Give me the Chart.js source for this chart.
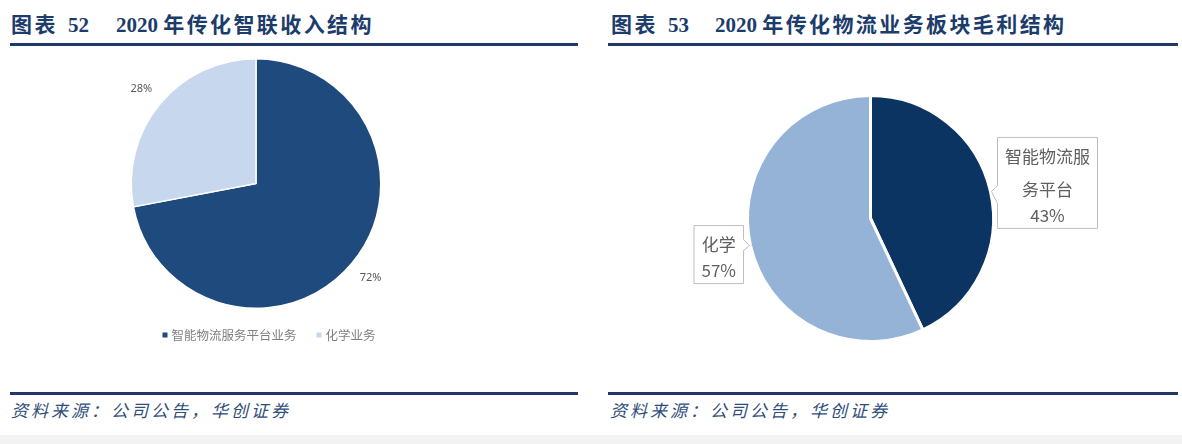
<!DOCTYPE html>
<html><head><meta charset="utf-8">
<script src="https://cdn.jsdelivr.net/npm/chart.js@4.4.0/dist/chart.umd.min.js"></script>
<style>
html,body{margin:0;padding:0;background:#fff;width:1182px;height:444px;overflow:hidden;position:relative;font-family:"Noto Sans CJK SC",sans-serif}
.t{position:absolute;top:12px;font-family:"Liberation Serif","Noto Sans CJK SC",serif;font-weight:bold;font-size:21px;color:#1c3c6c;white-space:pre;line-height:26px}
.t .cn{letter-spacing:2.4px}
.rule{position:absolute;height:3px;background:#1f3a66}
.src{position:absolute;top:398px;font-style:italic;font-size:17px;line-height:24px;color:#2f4d7a;letter-spacing:3px;white-space:pre}
.band{position:absolute;left:0;top:435px;width:1182px;height:9px;background:#f2f2f2}
canvas{position:absolute}
</style></head>
<body>
<div class="t" style="left:11px"><span class="cn">图表</span></div>
<div class="t" style="left:68px">52</div>
<div class="t" style="left:116px">2020 <span class="cn">年传化智联收入结构</span></div>
<div class="t" style="left:611px"><span class="cn">图表</span></div>
<div class="t" style="left:668px">53</div>
<div class="t" style="left:715px">2020 <span class="cn">年传化物流业务板块毛利结构</span></div>
<div class="rule" style="left:10px;top:43px;width:568px"></div>
<div class="rule" style="left:608px;top:43px;width:570px"></div>
<canvas id="c1" width="590" height="310" style="left:0;top:50px;width:590px;height:310px"></canvas>
<canvas id="c2" width="582" height="330" style="left:600px;top:50px;width:582px;height:330px"></canvas>
<div class="rule" style="left:10px;top:392px;width:568px"></div>
<div class="rule" style="left:608px;top:392px;width:570px"></div>
<div class="src" style="left:11px">资料来源：公司公告，华创证券</div>
<div class="src" style="left:610px">资料来源：公司公告，华创证券</div>
<div class="band"></div>
<script>
// ---- data ----
const incomeLabels = ['智能物流服务平台业务', '化学业务'];
const incomeValues = [72, 28];
const profitLabels = ['智能物流服务平台', '化学'];
const profitValues = [43, 57];

const SANS = '"Noto Sans CJK SC","Noto Sans",sans-serif';

// percent labels + legend for chart 1
const chart1Plugin = {
  id: 'c1labels',
  afterDraw(chart) {
    const ctx = chart.ctx;
    const meta = chart.getDatasetMeta(0);
    const ds = chart.data.datasets[0];
    ctx.save();
    ctx.font = '11px "Noto Sans",sans-serif';
    ctx.fillStyle = '#595959';
    ctx.textAlign = 'center';
    ctx.textBaseline = 'middle';
    meta.data.forEach((arc, i) => {
      const a = (arc.startAngle + arc.endAngle) / 2;
      const r = arc.outerRadius + 24;
      ctx.fillText(ds.data[i] + '%', arc.x + Math.cos(a) * r, arc.y + Math.sin(a) * r);
    });
    // legend
    ctx.font = '12.5px ' + SANS;
    ctx.textAlign = 'left';
    const box = 5, gapIn = 4, gapItems = 20;
    const widths = chart.data.labels.map(l => ctx.measureText(l).width);
    const total = widths.reduce((s, w) => s + box + gapIn + w, 0) + gapItems * (widths.length - 1);
    let x = 269 - total / 2;
    const y = 285;
    chart.data.labels.forEach((l, i) => {
      ctx.fillStyle = ds.backgroundColor[i];
      ctx.fillRect(x, y - box / 2, box, box);
      x += box + gapIn;
      ctx.fillStyle = '#7f7f7f';
      ctx.fillText(l, x, y + 0.5);
      x += widths[i] + gapItems;
    });
    ctx.restore();
  }
};

// callouts for chart 2
const chart2Plugin = {
  id: 'c2callouts',
  afterDraw(chart) {
    const ctx = chart.ctx;
    const meta = chart.getDatasetMeta(0);
    const ds = chart.data.datasets[0];
    ctx.save();
    ctx.font = '17px ' + SANS;
    meta.data.forEach((arc, i) => {
      const a = (arc.startAngle + arc.endAngle) / 2;
      const r = arc.outerRadius + 1;
      const tx = arc.x + Math.cos(a) * r, ty = arc.y + Math.sin(a) * r;
      // wrap label
      const label = chart.data.labels[i];
      const lines = [];
      let cur = '';
      for (const ch of label) {
        if (ctx.measureText(cur + ch).width > 92 && cur) { lines.push(cur); cur = ch; }
        else cur += ch;
      }
      if (cur) lines.push(cur);
      const nameLines = lines.length;
      lines.push(ds.data[i] + '%');
      // line centre offsets from box top
      const ys = [];
      let yy = 19;
      lines.forEach((l, k) => { ys.push(yy); yy += (k < nameLines - 1) ? 33 : 26; });
      const h = ys[ys.length - 1] + 13;
      const maxW = Math.max(...lines.map(l => ctx.measureText(l).width));
      const w = maxW + 15;
      const right = Math.cos(a) > 0;
      const bx = right ? tx + 6 : tx - 6 - w;
      const by = right ? ty - 54 : ty - 20;
      const edge = right ? bx : bx + w;
      const b1 = ty - 6, b2 = right ? ty + 12 : ty + 5;
      ctx.beginPath();
      if (right) {
        ctx.moveTo(bx, by); ctx.lineTo(bx + w, by); ctx.lineTo(bx + w, by + h); ctx.lineTo(bx, by + h);
        ctx.lineTo(edge, b2); ctx.lineTo(tx, ty); ctx.lineTo(edge, b1); ctx.closePath();
      } else {
        ctx.moveTo(bx, by); ctx.lineTo(bx + w, by); ctx.lineTo(edge, b1); ctx.lineTo(tx, ty); ctx.lineTo(edge, b2);
        ctx.lineTo(bx + w, by + h); ctx.lineTo(bx, by + h); ctx.closePath();
      }
      ctx.fillStyle = '#ffffff';
      ctx.fill();
      ctx.strokeStyle = '#bfbfbf';
      ctx.lineWidth = 1;
      ctx.stroke();
      ctx.fillStyle = '#5f5f5f';
      ctx.textAlign = 'center';
      ctx.textBaseline = 'middle';
      lines.forEach((l, k) => ctx.fillText(l, bx + w / 2, by + ys[k]));
    });
    ctx.restore();
  }
};

const common = {
  responsive: false,
  animation: false,
  devicePixelRatio: 1,
  plugins: { legend: { display: false }, tooltip: { enabled: false } }
};

new Chart(document.getElementById('c1'), {
  type: 'pie',
  data: {
    labels: incomeLabels,
    datasets: [{ data: incomeValues, backgroundColor: ['#1f4a7e', '#c7d8ee'], borderColor: '#ffffff', borderWidth: 1.5 }]
  },
  options: Object.assign({}, common, { layout: { padding: { left: 130, right: 208, top: 8, bottom: 51 } } }),
  plugins: [chart1Plugin]
});

new Chart(document.getElementById('c2'), {
  type: 'pie',
  data: {
    labels: profitLabels,
    datasets: [{ data: profitValues, backgroundColor: ['#0b3463', '#95b3d7'], borderColor: '#ffffff', borderWidth: 3 }]
  },
  options: Object.assign({}, common, { layout: { padding: { left: 146, right: 187, top: 44, bottom: 37 } } }),
  plugins: [chart2Plugin]
});
</script>
</body></html>
